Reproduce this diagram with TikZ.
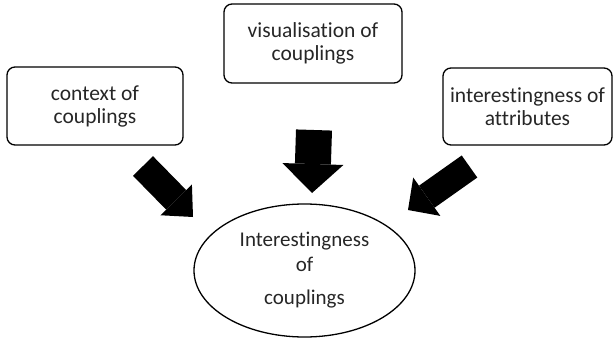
\documentclass[tikz,border=0pt]{standalone}
\usepackage{fontspec}
\setmainfont{Carlito}[Ligatures={NoCommon,NoRare,NoContextual}]
\usetikzlibrary{arrows.meta,shapes.geometric}
\tikzset{
  boxnode/.style={draw, line width=1.3pt, rounded corners=8pt, inner sep=0pt, align=center,
    font=\fontsize{21.5}{23}\selectfont, text=black!85},
  ovalnode/.style={draw, ellipse, line width=1.3pt, inner sep=0pt, align=center,
    minimum width=221pt, minimum height=133pt, font=\fontsize{21}{25}\selectfont, text=black!85},
  blockarrow/.style={line width=#1, line cap=butt, black}
}
\begin{document}
\begin{tikzpicture}[x=1pt,y=-1pt]
\useasboundingbox (0,0) rectangle (613,340);
\node[boxnode, minimum width=176pt, minimum height=78pt] (ctx) at (95,106) {context of\\couplings};
\node[boxnode, minimum width=178pt, minimum height=79pt] (vis) at (313,43.5) {visualisation of\\couplings};
\node[boxnode, minimum width=169pt, minimum height=77pt] (attr) at (527.5,106.5) {interestingness of\\attributes};
\node[ovalnode] (int) at (304.5,270.5) {Interestingness\\of\\[8pt]couplings};
\coordinate (lt) at (143,166);
\coordinate (lh) at (193,217);
\coordinate (ct) at (314,130);
\coordinate (ch) at (312,193);
\coordinate (rt) at (469.5,166.5);
\coordinate (rh) at (408,210);
\draw[blockarrow=28pt, -{Triangle[length=24pt, width=44pt, line width=0pt]}] (lt) -- (lh);
\draw[blockarrow=36pt, -{Triangle[length=29pt, width=61pt, line width=0pt]}] (ct) -- (ch);
\draw[blockarrow=27pt, -{Triangle[length=23pt, width=47pt, line width=0pt]}] (rt) -- (rh);
\end{tikzpicture}
\end{document}
